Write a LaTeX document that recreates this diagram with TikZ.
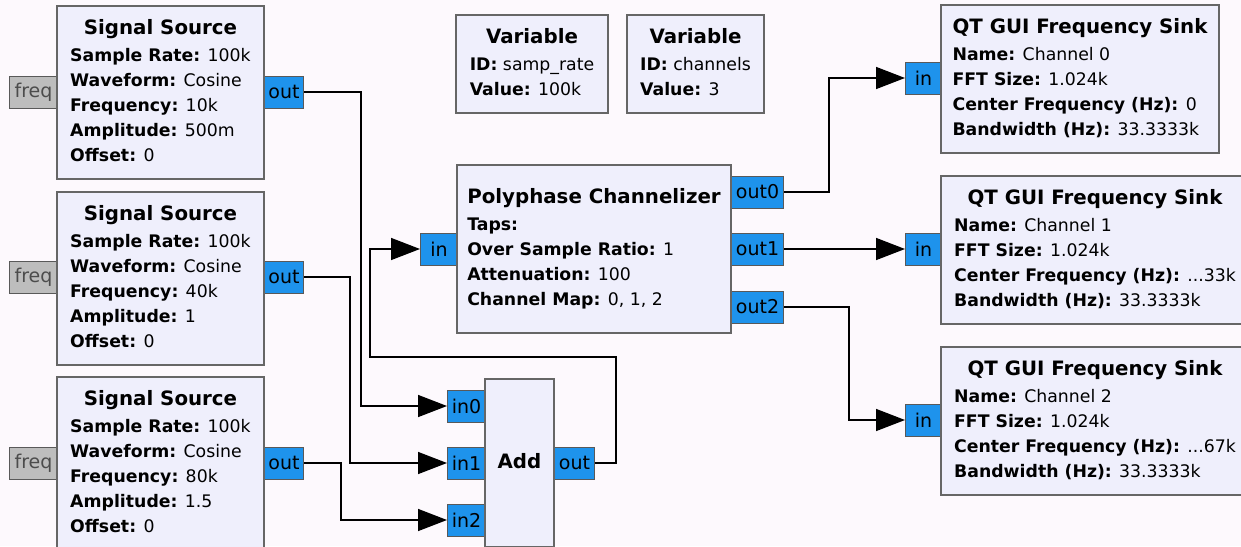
\documentclass[tikz,border=0pt]{standalone}
\usepackage{fontspec}
\setmainfont{DejaVu Sans}
\usepackage{tikz}
\usetikzlibrary{arrows.meta}
\usetikzlibrary{positioning}
\usetikzlibrary{calc}
\definecolor{canvas}{HTML}{FDF9FD}
\definecolor{blockfill}{HTML}{EFEFFC}
\definecolor{portblue}{HTML}{1E93EC}
\definecolor{portgray}{HTML}{BDBDBD}
\tikzset{
blockbox/.style = {draw=black!60, line width=1.8pt, fill=blockfill,
                   inner sep=0pt, font=\fontsize{17.3}{25}\selectfont},
port/.style = {draw=black!65, line width=1pt, fill=portblue,
               inner sep=0pt, minimum height=32pt,
               font=\fontsize{19}{22}\selectfont},
mport/.style = {port, fill=portgray, text=black!70}, % message port
wire/.style = {line width=1.5pt, -{Triangle[length=29pt,width=22pt]}}
}
\newcommand{\titlefont}{\fontsize{19.8}{26}\selectfont\bfseries}
\newcommand{\ttl}[1]{\multicolumn{1}{@{}c@{}}{\titlefont #1}\\[2pt]}
\newcommand{\prm}[2]{\textbf{#1:} #2\\}
\newcommand{\blk}[6]{\node[blockbox, minimum width=#4pt, minimum height=#5pt]
  (#1) at (#2,#3) {\begin{tabular}{@{}l@{}}#6\end{tabular}};}
\newcommand{\port}[5][port]{\node[#1, minimum width=#4pt, anchor=west] (#2) at (#3) {#5};}

\begin{document}
\begin{tikzpicture}[x=1pt, y=-1pt]
    \useasboundingbox (0,0) rectangle (1241,546);
    \fill[canvas] (0,0) rectangle (1241,546);
    \clip (0,0) rectangle (1241,546);

    % ports
    \port[mport]{s1freq}{9,92}{48}{freq}
    \port[mport]{s2freq}{9,277}{48}{freq}
    \port[mport]{s3freq}{9,463}{48}{freq}
    \port{s1out}{264,92}{39}{out}
    \port{s2out}{264,277}{39}{out}
    \port{s3out}{264,463}{39}{out}
    \port{ain0}{447,406}{38}{in0}
    \port{ain1}{447,463}{38}{in1}
    \port{ain2}{447,520}{38}{in2}
    \port{aout}{554,463}{40}{out}
    \port{pin}{420,249}{37}{in}
    \port{pout0}{731,192}{52}{out0}
    \port{pout1}{731,249}{52}{out1}
    \port{pout2}{731,307}{52}{out2}
    \port{k0in}{905,78}{36}{in}
    \port{k1in}{905,249}{36}{in}
    \port{k2in}{905,420}{36}{in}

    % blocks
    \blk{src1}{160.5}{92.5}{207}{173}{\ttl{Signal Source}
      \prm{Sample Rate}{100k}\prm{Waveform}{Cosine}\prm{Frequency}{10k}
      \prm{Amplitude}{500m}\prm{Offset}{0}}
    \blk{src2}{160.5}{278.5}{207}{173}{\ttl{Signal Source}
      \prm{Sample Rate}{100k}\prm{Waveform}{Cosine}\prm{Frequency}{40k}
      \prm{Amplitude}{1}\prm{Offset}{0}}
    \blk{src3}{160.5}{463.5}{207}{173}{\ttl{Signal Source}
      \prm{Sample Rate}{100k}\prm{Waveform}{Cosine}\prm{Frequency}{80k}
      \prm{Amplitude}{1.5}\prm{Offset}{0}}
    \blk{var1}{532}{64}{152}{98}{\ttl{Variable}
      \prm{ID}{samp\_rate}\prm{Value}{100k}}
    \blk{var2}{695.5}{64}{137}{98}{\ttl{Variable}
      \prm{ID}{channels}\prm{Value}{3}}
    \blk{pfb}{594}{249}{274}{168}{\ttl{Polyphase Channelizer}
      \prm{Taps}{}\prm{Over Sample Ratio}{1}\prm{Attenuation}{100}
      \prm{Channel Map}{0, 1, 2}}
    \blk{add}{519.5}{463}{69}{168}{\titlefont Add}
    \blk{sink0}{1080}{79}{278}{148}{\ttl{QT GUI Frequency Sink}
      \prm{Name}{Channel 0}\prm{FFT Size}{1.024k}
      \prm{Center Frequency (Hz)}{0}\prm{Bandwidth (Hz)}{33.3333k}}
    \blk{sink1}{1095}{250}{308}{148}{\ttl{QT GUI Frequency Sink}
      \prm{Name}{Channel 1}\prm{FFT Size}{1.024k}
      \prm{Center Frequency (Hz)}{...33k}\prm{Bandwidth (Hz)}{33.3333k}}
    \blk{sink2}{1095}{421}{308}{148}{\ttl{QT GUI Frequency Sink}
      \prm{Name}{Channel 2}\prm{FFT Size}{1.024k}
      \prm{Center Frequency (Hz)}{...67k}\prm{Bandwidth (Hz)}{33.3333k}}

    % connections
    \draw[wire] (s1out.east) -- ++(57,0) |- (ain0.west);
    \draw[wire] (s2out.east) -- ++(46,0) |- (ain1.west);
    \draw[wire] (s3out.east) -- ++(37,0) |- (ain2.west);
    \draw[wire] (aout.east) -- ++(21,0) -- ++(0,-106) -- ++(-246,0) |- (pin.west);
    \draw[wire] (pout0.east) -- ++(45,0) |- (k0in.west);
    \draw[wire] (pout1.east) -- (k1in.west);
    \draw[wire] (pout2.east) -- ++(65,0) |- (k2in.west);
\end{tikzpicture}
\end{document}
